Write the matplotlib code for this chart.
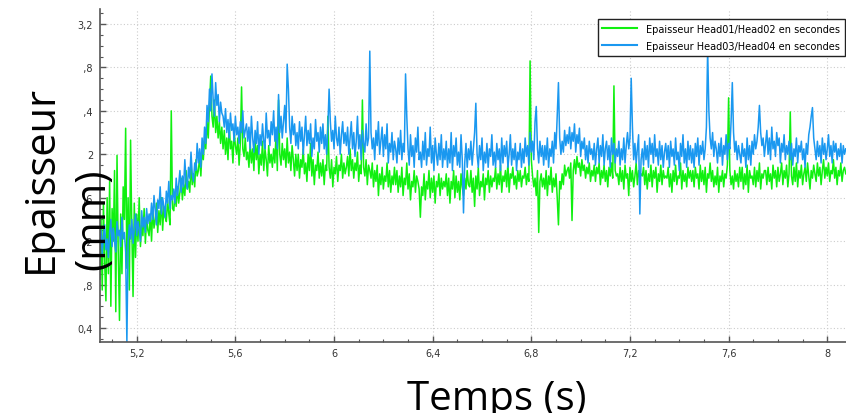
import numpy as np
import matplotlib
matplotlib.use("Agg")
import matplotlib.pyplot as plt
from matplotlib.ticker import MultipleLocator, FuncFormatter
from matplotlib.patches import Rectangle

# sampling grid (s)
t_start = 5.05
t_step = 0.005

# Epaisseur Head03/Head04 (mm), one row per 0.1 s
head34 = [
    1.18, 1.30, 1.08, 1.25, 1.35, 1.12, 1.22, 1.05, 1.28, 1.40, 1.15, 1.32, 1.20, 1.10, 1.38, 1.25, 1.30, 1.15, 1.42, 1.22,
    1.28, 1.10, 0.27, 1.20, 1.35, 1.22, 1.40, 1.18, 1.32, 1.45, 1.25, 1.38, 1.30, 1.20, 1.48, 1.33, 1.42, 1.28, 1.50, 1.36,
    1.45, 1.38, 1.55, 1.40, 1.62, 1.48, 1.35, 1.58, 1.50, 1.70, 1.45, 1.60, 1.52, 1.42, 1.66, 1.55, 1.75, 1.50, 1.62, 1.58,
    1.68, 1.55, 1.78, 1.62, 1.72, 1.85, 1.65, 1.80, 1.70, 1.95, 1.75, 1.68, 1.88, 1.78, 2.02, 1.82, 1.75, 1.92, 1.85, 2.10,
    1.92, 2.05, 1.88, 2.15, 2.00, 2.25, 2.10, 2.45, 2.30, 2.60, 2.40, 2.74, 2.50, 2.35, 2.66, 2.45, 2.55, 2.30, 2.48, 2.38,
    2.35, 2.25, 2.42, 2.20, 2.32, 2.15, 2.38, 2.22, 2.28, 2.12, 2.35, 2.18, 2.25, 2.10, 2.30, 2.20, 2.40, 2.15, 2.22, 2.28,
    2.12, 2.25, 2.05, 2.35, 2.15, 2.02, 2.22, 2.10, 2.30, 2.00, 2.18, 2.08, 2.28, 2.12, 2.05, 2.38, 2.15, 2.22, 2.08, 2.30,
    2.18, 2.40, 2.12, 2.25, 2.05, 2.55, 2.20, 2.35, 2.15, 2.30, 2.45, 2.20, 2.83, 2.60, 2.25, 2.10, 2.35, 2.18, 2.28, 2.08,
    2.20, 2.05, 2.30, 2.12, 2.25, 2.00, 2.18, 2.35, 2.08, 2.22, 2.10, 2.28, 1.98, 2.15, 2.05, 2.32, 2.12, 2.20, 2.02, 2.25,
    2.10, 2.28, 2.05, 2.18, 2.00, 2.25, 2.60, 2.30, 2.12, 2.22, 2.05, 2.35, 2.15, 2.08, 2.25, 2.00, 2.18, 2.30, 2.10, 2.20,
    2.08, 2.25, 2.00, 2.15, 2.30, 2.05, 2.20, 1.98, 2.12, 2.35, 2.05, 2.18, 1.95, 2.22, 2.10, 2.02, 2.28, 2.08, 2.15, 2.95,
    2.20, 2.05, 2.15, 1.95, 2.22, 2.08, 2.30, 2.00, 2.12, 2.25, 1.98, 2.18, 2.05, 2.28, 1.92, 2.10, 2.02, 2.20, 1.95, 2.12,
    2.05, 1.92, 2.15, 2.00, 2.22, 1.95, 2.10, 2.02, 2.74, 2.35, 2.05, 1.90, 2.18, 1.98, 2.08, 1.88, 2.15, 2.02, 2.25, 1.95,
    2.02, 1.88, 2.12, 1.95, 2.20, 1.90, 2.05, 1.98, 2.25, 1.92, 2.08, 1.85, 2.15, 2.00, 1.90, 2.10, 1.95, 2.18, 1.88, 2.05,
    1.95, 2.12, 1.88, 2.05, 1.92, 2.20, 1.85, 2.08, 1.98, 2.15, 1.90, 2.02, 1.88, 2.18, 1.95, 1.46, 1.92, 2.10, 1.88, 2.05,
    1.95, 2.12, 1.90, 2.05, 2.20, 2.47, 2.00, 1.88, 2.08, 1.95, 2.15, 1.85, 2.02, 1.92, 2.10, 1.88, 2.05, 1.98, 2.18, 1.90,
    2.02, 1.88, 2.10, 1.95, 2.05, 1.85, 2.15, 1.92, 2.08, 1.98, 2.12, 1.88, 2.00, 2.18, 1.90, 2.05, 1.95, 2.10, 1.85, 2.02,
    1.95, 2.10, 1.88, 2.05, 1.92, 2.15, 1.98, 2.08, 1.90, 2.20, 2.02, 2.12, 1.95, 2.30, 2.44, 2.05, 1.92, 2.12, 1.98, 2.08,
    1.90, 2.08, 1.95, 2.15, 1.88, 2.05, 1.98, 2.12, 1.92, 2.20, 2.05, 2.35, 2.66, 2.15, 2.00, 2.12, 2.02, 2.22, 2.08, 2.18,
    2.10, 2.25, 2.05, 2.20, 2.12, 2.28, 2.02, 2.18, 2.10, 2.24, 1.98, 2.12, 2.05, 2.15, 1.95, 2.08, 1.92, 2.12, 2.00, 2.05,
    1.95, 2.10, 1.90, 2.05, 2.15, 1.92, 2.08, 1.98, 2.18, 1.90, 2.05, 2.12, 1.95, 2.08, 1.88, 2.15, 2.00, 2.10, 1.92, 2.05,
    1.98, 2.12, 1.90, 2.05, 1.95, 2.15, 1.92, 2.08, 2.20, 2.05, 2.15, 2.70, 2.25, 1.95, 2.10, 1.92, 2.05, 2.18, 1.45, 1.95,
    2.05, 1.90, 2.12, 1.95, 2.08, 1.88, 2.15, 2.00, 2.10, 1.92, 2.18, 1.98, 2.05, 1.90, 2.12, 1.95, 2.08, 1.88, 2.02, 2.10,
    1.95, 2.08, 1.88, 2.12, 1.98, 2.05, 1.90, 2.15, 1.95, 2.02, 1.85, 2.10, 1.98, 2.18, 1.92, 2.05, 1.88, 2.12, 1.95, 2.08,
    1.92, 2.05, 1.88, 2.10, 1.98, 2.15, 1.90, 2.08, 2.00, 2.12, 1.95, 2.05, 2.25, 2.97, 2.40, 2.15, 2.05, 2.20, 1.98, 2.12,
    2.05, 1.92, 2.10, 1.98, 2.15, 1.90, 2.08, 2.00, 2.18, 1.95, 2.10, 2.05, 2.30, 2.66, 2.20, 2.02, 2.12, 1.95, 2.08, 2.00,
    1.92, 2.10, 1.98, 2.05, 1.88, 2.15, 1.95, 2.08, 1.90, 2.12, 2.00, 2.18, 2.05, 2.12, 2.25, 2.45, 2.20, 2.08, 2.15, 1.98,
    2.10, 2.22, 2.00, 2.15, 1.95, 2.25, 2.05, 2.12, 1.98, 2.20, 2.08, 2.15, 1.92, 2.10, 2.02, 2.18, 1.95, 2.08, 2.00, 2.12,
    1.95, 2.10, 1.90, 2.05, 1.98, 2.15, 1.92, 2.08, 2.02, 2.12, 1.95, 2.05, 1.88, 2.10, 2.00, 2.18, 2.25, 2.35, 2.43, 2.15,
    2.05, 1.95, 2.12, 1.98, 2.08, 1.92, 2.15, 2.00, 2.10, 1.95, 2.05, 2.18, 1.98, 2.08, 1.92, 2.12, 2.02, 2.10, 1.95, 2.05,
    1.98, 2.10, 1.92, 2.08, 2.00, 2.05,
]

# Epaisseur Head01/Head02 (mm)
head12 = [
    0.85, 1.40, 0.75, 1.55, 1.00, 0.65, 1.60, 0.90, 1.75, 0.60, 1.50, 1.20, 1.85, 0.55, 1.99, 1.10, 0.47, 1.45, 0.90, 1.70,
    1.40, 2.24, 0.95, 1.60, 0.75, 2.13, 1.30, 0.69, 1.55, 1.05, 1.45, 1.20, 1.60, 1.15, 1.35, 1.25, 1.50, 1.18, 1.42, 1.30,
    1.25, 1.45, 1.20, 1.50, 1.32, 1.40, 1.55, 1.28, 1.48, 1.35, 1.60, 1.30, 1.52, 1.42, 1.38, 1.58, 1.45, 1.35, 2.40, 1.50,
    1.48, 1.62, 1.52, 1.70, 1.55, 1.65, 1.78, 1.58, 1.72, 1.62, 1.85, 1.68, 1.75, 1.65, 1.90, 1.72, 1.82, 1.70, 1.95, 1.80,
    1.85, 1.98, 1.80, 2.05, 1.95, 2.15, 2.05, 2.30, 2.15, 2.45, 2.72, 2.35, 2.25, 2.50, 2.20, 2.35, 2.15, 2.30, 2.10, 2.25,
    2.05, 2.22, 2.00, 2.15, 1.95, 2.28, 2.05, 2.12, 1.92, 2.20, 2.08, 2.00, 2.15, 1.90, 2.10, 2.62, 2.05, 1.98, 2.15, 1.95,
    2.02, 1.88, 2.10, 1.92, 2.05, 1.85, 2.15, 1.95, 2.08, 1.82, 2.00, 1.90, 2.12, 1.85, 2.05, 1.95, 1.80, 2.08, 1.92, 2.00,
    1.88, 2.05, 1.92, 2.20, 1.85, 2.50, 2.00, 1.90, 2.10, 1.95, 2.05, 1.88, 2.15, 1.92, 2.02, 1.85, 2.08, 1.95, 1.80, 2.00,
    1.85, 2.00, 1.78, 1.95, 1.88, 2.05, 1.82, 1.92, 1.75, 2.00, 1.85, 2.10, 1.80, 1.95, 1.72, 1.90, 1.85, 2.02, 1.78, 1.92,
    1.80, 1.95, 1.72, 1.90, 1.85, 2.35, 1.88, 1.78, 1.95, 1.70, 1.88, 1.82, 1.98, 1.75, 1.90, 1.85, 2.00, 1.78, 1.92, 1.82,
    1.88, 1.98, 1.80, 2.05, 1.85, 1.95, 1.78, 1.92, 1.85, 2.02, 1.75, 1.90, 1.82, 2.50, 1.88, 1.80, 1.95, 1.72, 1.90, 1.85,
    1.78, 1.92, 1.70, 1.85, 1.75, 1.90, 1.62, 1.82, 1.72, 1.88, 1.68, 1.80, 1.75, 1.92, 1.70, 1.85, 1.65, 1.80, 1.72, 1.88,
    1.72, 1.85, 1.65, 1.80, 1.70, 1.88, 1.62, 1.78, 1.72, 1.92, 1.68, 1.82, 1.58, 1.75, 1.70, 1.85, 1.65, 1.80, 1.75, 1.68,
    1.42, 1.70, 1.62, 1.82, 1.58, 1.75, 1.68, 1.85, 1.60, 1.78, 1.65, 1.80, 1.55, 1.75, 1.70, 1.82, 1.62, 1.78, 1.68, 1.75,
    1.70, 1.82, 1.62, 1.78, 1.55, 1.75, 1.68, 1.85, 1.60, 1.80, 1.65, 1.75, 1.58, 1.82, 1.70, 1.62, 1.78, 1.68, 1.85, 1.72,
    1.70, 1.85, 1.65, 1.78, 1.52, 1.80, 1.68, 1.88, 1.62, 1.75, 1.70, 1.82, 1.58, 1.78, 1.72, 1.85, 1.65, 1.80, 1.70, 1.78,
    1.75, 1.88, 1.68, 1.82, 1.72, 1.90, 1.65, 1.80, 1.75, 1.85, 1.70, 1.92, 1.65, 1.82, 1.78, 1.88, 1.72, 1.80, 1.68, 1.85,
    1.75, 1.85, 1.70, 1.80, 1.78, 1.88, 1.72, 1.82, 1.75, 2.86, 1.95, 1.80, 1.70, 1.78, 1.62, 1.85, 1.28, 1.75, 1.82, 1.70,
    1.78, 1.68, 1.85, 1.62, 1.80, 1.72, 1.88, 1.65, 1.78, 1.70, 1.82, 1.60, 1.35, 1.75, 1.68, 1.82, 1.72, 1.90, 1.80, 1.85,
    1.88, 1.78, 1.92, 1.39, 1.85, 1.95, 1.82, 1.98, 1.88, 1.92, 1.80, 1.95, 1.85, 1.90, 1.78, 1.88, 1.82, 1.92, 1.75, 1.85,
    1.80, 1.90, 1.75, 1.88, 1.82, 1.92, 1.72, 1.85, 1.78, 1.90, 1.75, 1.85, 1.70, 1.88, 1.80, 1.92, 1.78, 2.63, 1.85, 1.80,
    1.82, 1.72, 1.88, 1.75, 1.85, 1.68, 1.90, 1.78, 1.82, 1.62, 1.88, 1.75, 1.85, 1.70, 1.80, 1.92, 1.72, 1.85, 1.78, 1.82,
    1.80, 1.88, 1.72, 1.85, 1.68, 1.82, 1.75, 1.90, 1.70, 1.85, 1.78, 1.88, 1.65, 1.82, 1.75, 1.90, 1.72, 1.85, 1.78, 1.80,
    1.78, 1.88, 1.70, 1.82, 1.65, 1.85, 1.75, 1.90, 1.72, 1.80, 1.78, 1.92, 1.68, 1.85, 1.75, 1.82, 1.70, 1.88, 1.78, 1.85,
    1.75, 1.85, 1.70, 1.88, 1.78, 1.82, 1.68, 1.90, 1.75, 1.85, 1.72, 1.88, 1.65, 1.82, 1.78, 1.92, 1.75, 1.85, 1.70, 1.80,
    1.72, 1.88, 1.65, 1.80, 1.75, 1.85, 1.70, 1.82, 1.78, 1.90, 2.52, 1.85, 1.72, 1.80, 1.68, 1.85, 1.75, 1.82, 1.70, 1.88,
    1.75, 1.88, 1.68, 1.82, 1.72, 1.90, 1.65, 1.85, 1.78, 1.80, 1.72, 1.88, 1.70, 1.85, 1.75, 1.92, 1.68, 1.82, 1.78, 1.85,
    1.85, 1.72, 1.88, 1.75, 1.82, 1.68, 1.90, 1.78, 1.85, 1.70, 1.88, 1.75, 1.82, 1.92, 1.72, 1.85, 1.78, 1.90, 1.70, 1.82,
    2.39, 1.80, 1.72, 1.88, 1.75, 1.92, 1.70, 1.85, 1.78, 1.90, 1.72, 1.82, 1.88, 1.75, 1.92, 1.80, 1.68, 1.85, 1.78, 1.90,
    1.82, 1.75, 1.92, 1.80, 1.88, 1.72, 1.85, 1.95, 1.78, 1.88, 1.80, 1.92, 1.75, 1.85, 1.82, 1.95, 1.78, 1.88, 1.72, 1.85,
    1.80, 1.92, 1.75, 1.85, 1.88, 1.82,
]

labels = ["Epaisseur Head01/Head02 en secondes",
          "Epaisseur Head03/Head04 en secondes"]

W, H = 846, 414
fig = plt.figure(figsize=(W / 100, H / 100), dpi=100)
ax = fig.add_axes([100 / W, 1 - 343 / H, 1 - 100 / W, 333 / H])

t12 = t_start + t_step * np.arange(len(head12))
t34 = t_start + t_step * np.arange(len(head34))
ax.plot(t12, head12, color="#10f010", lw=1.1, label=labels[0])
ax.plot(t34, head34, color="#1a98f0", lw=1.1, label=labels[1])

ax.set_xlim(5.051, 8.076)
ax.set_ylim(0.271, 3.338)

def comma(v, pos):
    s = ("%.1f" % v).rstrip("0").rstrip(".")
    return s.replace(".", ",")

ax.xaxis.set_major_locator(MultipleLocator(0.4))
ax.xaxis.set_minor_locator(MultipleLocator(0.1))
ax.yaxis.set_major_locator(MultipleLocator(0.4))
ax.yaxis.set_minor_locator(MultipleLocator(0.1))
ax.xaxis.set_major_formatter(FuncFormatter(comma))
ax.yaxis.set_major_formatter(FuncFormatter(comma))

ax.tick_params(which="both", direction="in", color="#555555", labelsize=7,
               labelcolor="#333333")
ax.tick_params(which="major", length=4, width=1)
ax.tick_params(which="minor", length=2, width=0.8)
ax.tick_params(axis="x", pad=4)
ax.tick_params(axis="y", pad=5)

ax.grid(True, which="major", color="#cccccc", lw=0.8, linestyle=(0, (1, 2)))
for s in ["top", "right"]:
    ax.spines[s].set_visible(False)
for s in ["left", "bottom"]:
    ax.spines[s].set_color("#555555")
    ax.spines[s].set_linewidth(1.2)

leg = ax.legend(loc="upper right", bbox_to_anchor=(845 / W, 1 - 20 / H),
                bbox_transform=fig.transFigure, borderaxespad=0,
                fancybox=False, edgecolor="#222222", framealpha=1,
                fontsize=7, handlelength=3.6, handletextpad=0.9,
                labelspacing=0.7, borderpad=0.5)
leg.get_frame().set_linewidth(1.0)
for line in leg.get_lines():
    line.set_linewidth(1.5)

# white box of the slide text that hides part of the tick labels
fig.patches.append(Rectangle((0, 1 - 300 / H), 84 / W, 250 / H,
                             transform=fig.transFigure, facecolor="white",
                             edgecolor="none", zorder=2))

font = "Open Sans"
fig.text(52 / W, 1 - 273 / H, "Epaisseur", rotation=90, rotation_mode="anchor",
         ha="left", va="baseline", fontsize=30, family=font, zorder=3)
fig.text(104 / W, 1 - 270 / H, "(mm)", rotation=90, rotation_mode="anchor",
         ha="left", va="baseline", fontsize=30, family=font, zorder=3)
fig.text(497 / W, 1 - 410 / H, "Temps (s)", ha="center", va="baseline",
         fontsize=29, family=font)

fig.savefig("out.png", dpi=100)
